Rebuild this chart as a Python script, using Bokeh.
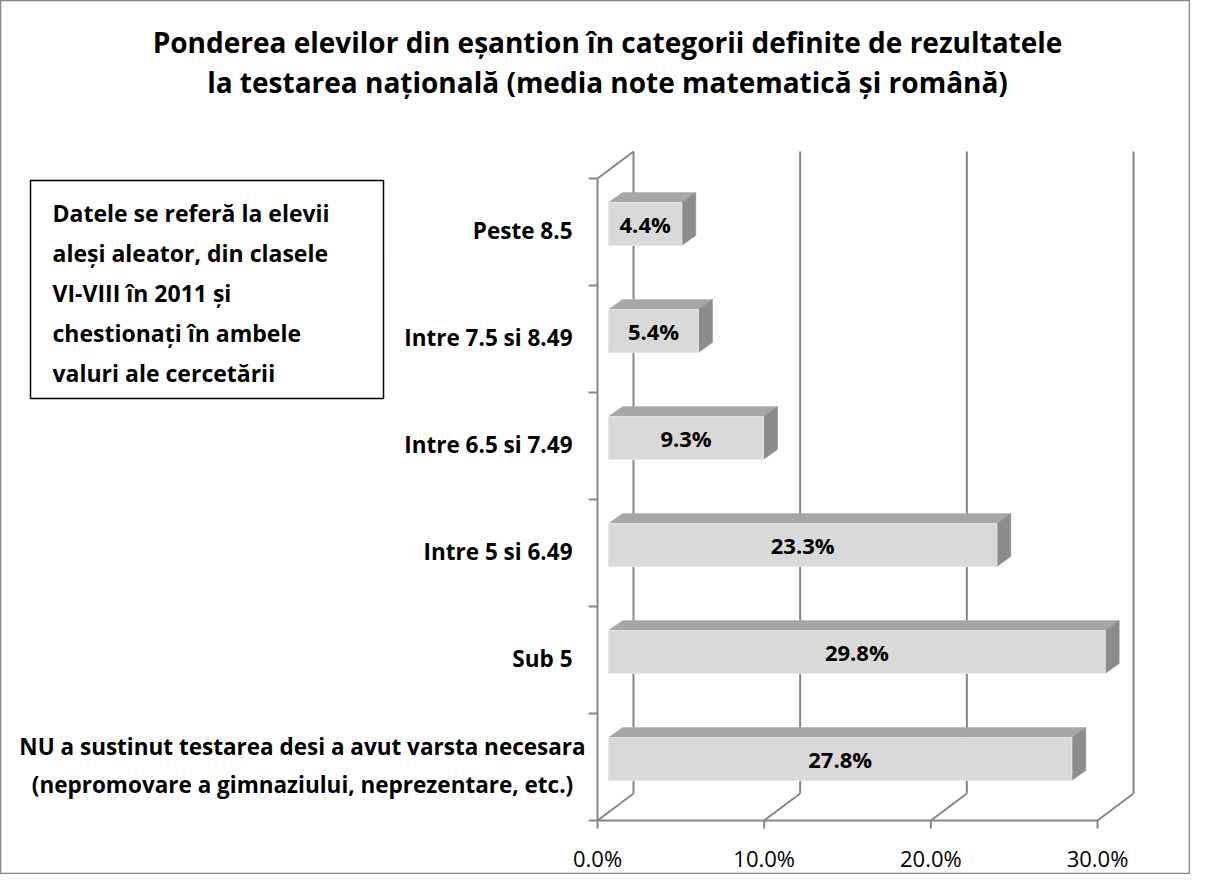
from bokeh.plotting import figure
from bokeh.models import Range1d, ColumnDataSource
from bokeh.core.properties import value
from bokeh.embed import file_html
from bokeh.resources import INLINE

# ---------------- data ----------------
categories = [
    "NU a sustinut testarea desi a avut varsta necesara\n(nepromovare a gimnaziului, neprezentare, etc.)",
    "Sub 5",
    "Intre 5 si 6.49",
    "Intre 6.5 si 7.49",
    "Intre 7.5 si 8.49",
    "Peste 8.5",
]
values = [27.8, 29.8, 23.3, 9.3, 5.4, 4.4]
x_ticks = [0, 10, 20, 30]
x_tick_labels = ["0.0%", "10.0%", "20.0%", "30.0%"]
title_lines = [
    "Ponderea elevilor din eșantion în categorii definite de rezultatele",
    "la testarea națională (media note matematică și română)",
]
note_lines = [
    "Datele se referă la elevii",
    "aleși aleator, din clasele",
    "VI-VIII în 2011 și",
    "chestionați în ambele",
    "valuri ale cercetării",
]

# ---------------- layout / style ----------------
W, H = 1190, 874
PAGE = 0
X0_PX, Y0_PX = 597, 820      # pixel of the origin of the front plane
SX = 16.667                  # px per percent
SY = 107.0                   # px per category

def X(px):
    return (px - X0_PX) / SX

def Y(py):
    return (Y0_PX - py) / SY

def DX(px):
    return px / SX

def DY(px):
    return px / SY

FONT = "Open Sans"
GRID = "#868686"
FRONT = "#d9d9d9"
TOP = "#a6a6a6"
SIDE = "#8c8c8c"

depth_dx, depth_dy = DX(36), DY(27)   # wall depth
bar_off_x, bar_off_y = DX(11), DY(8)  # bar front plane offset
bar_dx, bar_dy = DX(14), DY(10)       # bar depth
bar_h = 0.4
n = len(categories)
xmax = x_ticks[-1]

p = figure(width=W, height=H, output_backend="svg", toolbar_location=None,
           x_range=Range1d(X(PAGE), X(PAGE + W)),
           y_range=Range1d(Y(PAGE + H), Y(PAGE)),
           min_border=0)
p.xaxis.visible = False
p.yaxis.visible = False
p.grid.visible = False
p.outline_line_color = GRID
p.outline_line_width = 1.5
p.background_fill_color = "white"
p.border_fill_color = "white"

# ---------------- walls / grid ----------------
p.segment(x0=[t + depth_dx for t in x_ticks], y0=[depth_dy] * len(x_ticks),
          x1=[t + depth_dx for t in x_ticks], y1=[n + depth_dy] * len(x_ticks),
          line_color=GRID, line_width=2)
p.segment(x0=x_ticks, y0=[0] * len(x_ticks),
          x1=[t + depth_dx for t in x_ticks], y1=[depth_dy] * len(x_ticks),
          line_color=GRID, line_width=2)
p.segment(x0=[0], y0=[n], x1=[depth_dx], y1=[n + depth_dy], line_color=GRID, line_width=2)
p.segment(x0=[0, 0], y0=[0, 0], x1=[0, xmax], y1=[n, 0], line_color=GRID, line_width=2)
p.segment(x0=[0] * (n + 1), y0=list(range(n + 1)), x1=[-DX(9)] * (n + 1), y1=list(range(n + 1)),
          line_color=GRID, line_width=2)
p.segment(x0=x_ticks, y0=[0] * len(x_ticks), x1=x_ticks, y1=[-DY(8)] * len(x_ticks),
          line_color=GRID, line_width=2)

# ---------------- bars ----------------
front_l = [bar_off_x] * n
front_r = [bar_off_x + v for v in values]
front_b = [i + 0.5 - bar_h / 2 + bar_off_y for i in range(n)]
front_t = [i + 0.5 + bar_h / 2 + bar_off_y for i in range(n)]

top_xs, top_ys, side_xs, side_ys = [], [], [], []
for l, r, b, t in zip(front_l, front_r, front_b, front_t):
    top_xs.append([l, r, r + bar_dx, l + bar_dx])
    top_ys.append([t, t, t + bar_dy, t + bar_dy])
    side_xs.append([r, r + bar_dx, r + bar_dx, r])
    side_ys.append([b, b + bar_dy, t + bar_dy, t])

p.patches(top_xs, top_ys, fill_color=TOP, line_color=TOP, line_width=0.5)
p.patches(side_xs, side_ys, fill_color=SIDE, line_color=SIDE, line_width=0.5)
p.quad(left=front_l, right=front_r, bottom=front_b, top=front_t,
       fill_color=FRONT, line_color="#e6e6e6", line_width=1)

lab_src = ColumnDataSource(dict(
    x=[bar_off_x + v / 2 for v in values],
    y=[i + 0.5 + bar_off_y for i in range(n)],
    t=[f"{v:.1f}%" for v in values]))
p.text(x="x", y="y", text="t", source=lab_src, text_align="center", text_baseline="middle",
       text_font=value(FONT), text_font_style="bold", text_font_size="22px", text_color="black")

# ---------------- category labels ----------------
cx, cy, ct, ca = [], [], [], []
line_h = DY(38)
for i, c in enumerate(categories):
    parts = c.split("\n")
    k = len(parts)
    for j, part in enumerate(parts):
        cy.append(i + 0.5 - (j - (k - 1) / 2) * line_h + DY(2))
        ct.append(part)
        if k == 1:
            cx.append(X(572))
            ca.append("right")
        else:
            cx.append(X(302))
            ca.append("center")
cat_src = ColumnDataSource(dict(x=cx, y=cy, t=ct, a=ca))
p.text(x="x", y="y", text="t", text_align="a", source=cat_src, text_baseline="middle",
       text_font=value(FONT), text_font_style="bold", text_font_size="22.5px", text_color="black")

# ---------------- x tick labels ----------------
p.text(x=x_ticks, y=[Y(857)] * len(x_ticks), text=x_tick_labels, text_align="center",
       text_baseline="middle", text_font=value(FONT), text_font_size="22px", text_color="black")

# ---------------- title ----------------
p.text(x=[X(607)] * len(title_lines), y=[Y(41), Y(81)], text=title_lines,
       text_align="center", text_baseline="middle", text_font=value(FONT),
       text_font_style="bold", text_font_size="28px", text_color="black")

# ---------------- note box ----------------
p.quad(left=[X(30)], right=[X(383)], bottom=[Y(398)], top=[Y(180)],
       fill_color="white", line_color="black", line_width=1.5)
p.text(x=[X(52)] * len(note_lines), y=[Y(212 + 40 * k) for k in range(len(note_lines))],
       text=note_lines, text_align="left", text_baseline="middle", text_font=value(FONT),
       text_font_style="bold", text_font_size="23px", text_color="black")

open("out.html", "w").write(file_html(p, INLINE))
